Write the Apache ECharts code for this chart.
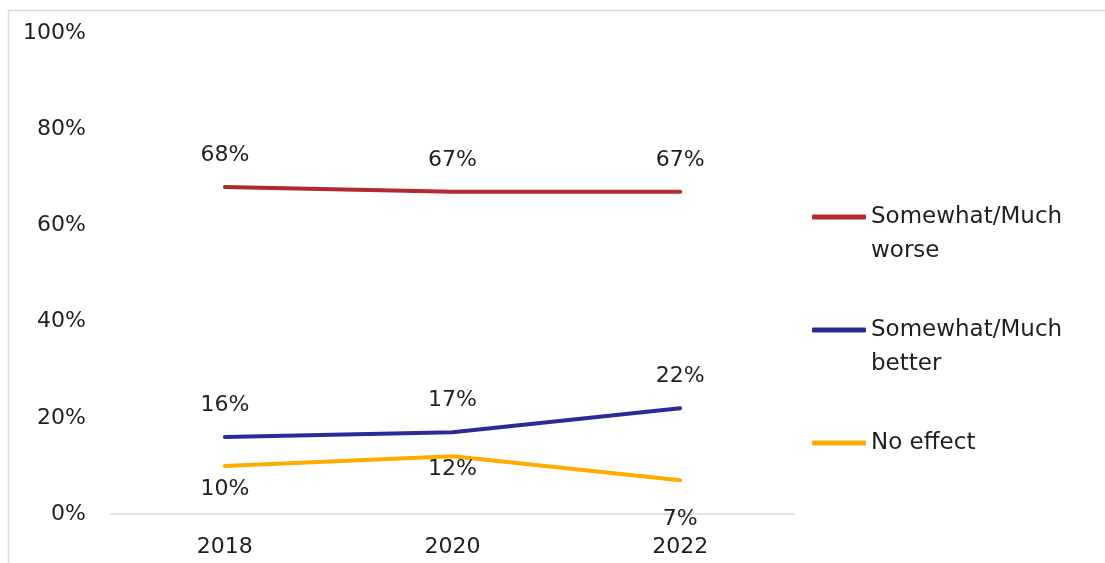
<!DOCTYPE html>
<html>
<head>
<meta charset="utf-8">
<script src="https://cdn.jsdelivr.net/npm/echarts@6/dist/echarts.min.js"></script>
<style>html,body{margin:0;padding:0;background:#fff;}#c{width:1105px;height:563px;}</style>
</head>
<body>
<div id="c"></div>
<script>
const categories = ['2018', '2020', '2022'];
const worse = [68, 67, 67];
const better = [16, 17, 22];
const noEffect = [10, 12, 7];
const seriesNames = ['Somewhat/Much worse', 'Somewhat/Much better', 'No effect'];
const yTicks = [0, 20, 40, 60, 80, 100];

const FONT = 'DejaVu Sans';
const TXT = '#1f1f1f';
const colors = ['#b4282f', '#2b2a98', '#ffab00'];

// label distances below the yellow line, per point (styling)
const noEffectLabelDist = [12, 2, 27];

const lbl = (pos, dist) => ({
  show: true, position: pos, distance: dist, color: TXT, fontFamily: FONT, fontSize: 22,
  formatter: p => p.value + '%'
});

const chart = echarts.init(document.getElementById('c'));
chart.setOption({
  animation: false,
  graphic: [{
    type: 'rect',
    shape: { x: 8.5, y: 10.5, width: 1200, height: 600 },
    style: { fill: 'none', stroke: '#d9d9d9', lineWidth: 1.5 },
    silent: true
  }],
  grid: { left: 111, right: 311, top: 33, bottom: 49 },
  xAxis: {
    type: 'category',
    data: categories,
    boundaryGap: true,
    axisLine: { lineStyle: { color: '#d9d9d9', width: 1.5 } },
    axisTick: { show: false },
    axisLabel: { color: TXT, fontFamily: FONT, fontSize: 22, margin: 22 }
  },
  yAxis: {
    type: 'value',
    min: yTicks[0],
    max: yTicks[yTicks.length - 1],
    interval: 20,
    splitLine: { show: false },
    axisLine: { show: false },
    axisTick: { show: false },
    axisLabel: { color: TXT, fontFamily: FONT, fontSize: 22, margin: 25, formatter: v => v + '%' }
  },
  legend: {
    orient: 'vertical',
    left: 807,
    top: 161,
    itemGap: 11,
    itemWidth: 54,
    itemHeight: 5,
    icon: 'roundRect',
    formatter: n => n.indexOf('Much ') >= 0 ? '\n' + n.replace('Much ', 'Much\n') : '\n' + n + '\n',
    textStyle: { color: TXT, fontFamily: FONT, fontSize: 23, lineHeight: 34 },
    data: seriesNames
  },
  series: [
    {
      name: seriesNames[0], type: 'line', data: worse,
      symbol: 'circle', symbolSize: 1, showSymbol: true,
      lineStyle: { color: colors[0], width: 4, cap: 'round' }, itemStyle: { color: colors[0] },
      label: lbl('top', 20)
    },
    {
      name: seriesNames[1], type: 'line', data: better,
      symbol: 'circle', symbolSize: 1, showSymbol: true,
      lineStyle: { color: colors[1], width: 4, cap: 'round' }, itemStyle: { color: colors[1] },
      label: lbl('top', 20)
    },
    {
      name: seriesNames[2], type: 'line',
      symbol: 'circle', symbolSize: 1, showSymbol: true,
      data: noEffect.map((v, i) => ({ value: v, label: { distance: noEffectLabelDist[i] } })),
      lineStyle: { color: colors[2], width: 4, cap: 'round' }, itemStyle: { color: colors[2] },
      label: lbl('bottom', 12)
    }
  ]
});
</script>
</body>
</html>
